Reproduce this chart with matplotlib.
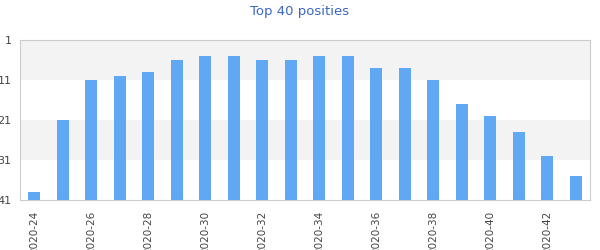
import numpy as np
import matplotlib
matplotlib.use('Agg')
import matplotlib.pyplot as plt

# weekly chart positions (lower is better)
weeks = ['2020-24', '2020-25', '2020-26', '2020-27', '2020-28', '2020-29', '2020-30',
         '2020-31', '2020-32', '2020-33', '2020-34', '2020-35', '2020-36', '2020-37',
         '2020-38', '2020-39', '2020-40', '2020-41', '2020-42', '2020-43']
positions = [39, 21, 11, 10, 9, 6, 5, 5, 6, 6, 5, 5, 8, 8, 11, 17, 20, 24, 30, 35]
yticks = [1, 11, 21, 31, 41]

fig = plt.figure(figsize=(6, 2.5), dpi=100)
ax = fig.add_axes([20/600, 50/250, 570/600, 160/250])

x = np.arange(len(weeks))
bottom = 41
ax.bar(x, [bottom - p for p in positions], bottom=positions, width=0.42,
       color='#60a8f4', zorder=3)

# alternating bands
ax.axhspan(1, 11, color='#f3f3f3', zorder=0, lw=0)
ax.axhspan(21, 31, color='#f3f3f3', zorder=0, lw=0)
for yv in [11, 31]:
    ax.axhline(yv, color='white', lw=1, ls=(0, (4, 2)), zorder=1)

ax.set_xlim(-0.5, len(weeks) - 0.5)
ax.set_ylim(41, 1)
ax.set_yticks(yticks)
ax.set_yticklabels([str(t) for t in yticks], fontsize=8, color='#444444')
ax.set_xticks(x[::2])
ax.set_xticklabels(weeks[::2], rotation=90, fontsize=7.5, color='#444444', va='top')
ax.tick_params(length=0)
ax.tick_params(axis='y', pad=6)
ax.tick_params(axis='x', pad=8)

for s in ax.spines.values():
    s.set_color('#cccccc')

fig.text(0.5, 1 - 11/250, 'Top 40 posities', ha='center', va='center',
         fontsize=9.5, color='#3a66c4')

fig.savefig('out.png', dpi=100)
